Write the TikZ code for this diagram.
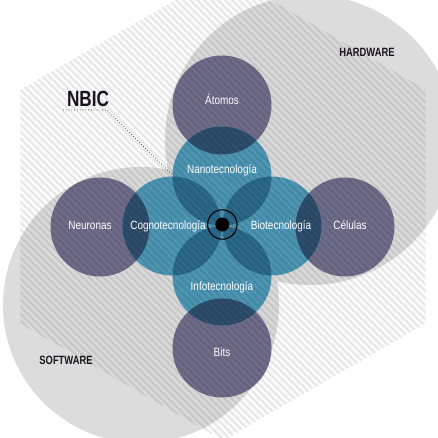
\documentclass[tikz,border=0pt]{standalone}
\usepackage{fontspec}
\setmainfont{Liberation Sans}
\newfontfamily\tagfont{Liberation Sans}[FakeStretch=0.83]
\newfontfamily\headfont{Liberation Sans}[FakeStretch=0.78]
\usepackage{tikz}
\usetikzlibrary{positioning}
\definecolor{panel}{HTML}{DCDCDC}
\definecolor{slate}{HTML}{6F6D8A}
\definecolor{sea}{HTML}{4D97B5}
\definecolor{petal}{HTML}{2B6A8C}
\definecolor{deep}{HTML}{2E4E6D}
\definecolor{ink}{HTML}{1B1420}
\tikzstyle{matter} = [circle, fill=slate, minimum size=99pt, inner sep=0pt]
\tikzstyle{tech}   = [circle, fill=sea, minimum size=99pt, inner sep=0pt]
\tikzstyle{tag}    = [text=white, font=\tagfont\fontsize{12}{14}\selectfont, anchor=base, inner sep=0pt]

\begin{document}
\begin{tikzpicture}[x=1pt, y=-1pt,
		stripe/.style={draw=black, draw opacity=0.085, line width=2.6pt},
		leader/.style={dotted, line width=0.8pt, draw=black!75},
		head/.style={font=\headfont\bfseries\fontsize{12}{14}\selectfont, text=ink, anchor=base, inner sep=0pt}]

		\useasboundingbox (0,0) rectangle (438,437);
		\clip (0,0) rectangle (438,437);

		% hardware and software fields
		\fill[panel] (310,140) circle[radius=145];
		\fill[panel] (141,305) circle[radius=138];

		\node[matter] (atomos)   at (222,105) {};
		\node[matter] (neuronas) at (100,227) {};
		\node[matter] (celulas)  at (345,227) {};
		\node[matter] (bits)     at (222,348) {};

		\node[tech] (nano)  at (222,176) {};
		\node[tech] (cogno) at (172,226) {};
		\node[tech] (bio)   at (272,226) {};
		\node[tech] (info)  at (222,276) {};

		% overlaps
		\foreach \a/\b in {nano/cogno, nano/bio, info/cogno, info/bio}{
			\begin{scope}
				\clip (\a.center) circle[radius=49.5];
				\fill[petal] (\b.center) circle[radius=49.5];
			\end{scope}
		}
		\foreach \a/\b in {atomos/nano, neuronas/cogno, celulas/bio, bits/info}{
			\begin{scope}
				\clip (\a.center) circle[radius=49.5];
				\fill[deep] (\b.center) circle[radius=49.5];
			\end{scope}
		}

		% hatched hexagon
		\begin{scope}
			\clip (20.4,89.5) -- (223,-27.5) -- (425.6,89.5) -- (425.6,323.5) -- (223,440.5) -- (20.4,323.5) -- cycle;
			\foreach \k in {-470,-463,...,440}
				\draw[stripe] (\k,-30) -- ++(480,480);
		\end{scope}

		\node[circle, draw=black, line width=1.1pt, minimum size=29.4pt, inner sep=0pt] (ring) at (222.3,224.5) {};
		\node[circle, fill=black, minimum size=14pt, inner sep=0pt] (core) at (222.3,224.5) {};

		\node[head, font=\headfont\bfseries\fontsize{22}{24}\selectfont] (nbic) at (88,106) {NBIC};
		\coordinate (tick) at (63,110);
		\coordinate (bend) at (107,110);
		\draw[leader] (tick) -- (bend) -- (ring.135);

		\node[head] (hardware) at (367,56) {HARDWARE};
		\node[head] (software) at (66,364.7) {SOFTWARE};

		\node[tag] (atomos-t)   at (222,104.3) {Átomos};
		\node[tag] (nano-t)     at (222,173)   {Nanotecnología};
		\node[tag] (cogno-t)    at (168,229)   {Cognotecnología};
		\node[tag] (bio-t)      at (281,229)   {Biotecnología};
		\node[tag] (info-t)     at (222,290.7) {Infotecnología};
		\node[tag] (neuronas-t) at (90,229)    {Neuronas};
		\node[tag] (celulas-t)  at (350,229)   {Células};
		\node[tag] (bits-t)     at (222,356)   {Bits};
	\end{tikzpicture}
\end{document}
